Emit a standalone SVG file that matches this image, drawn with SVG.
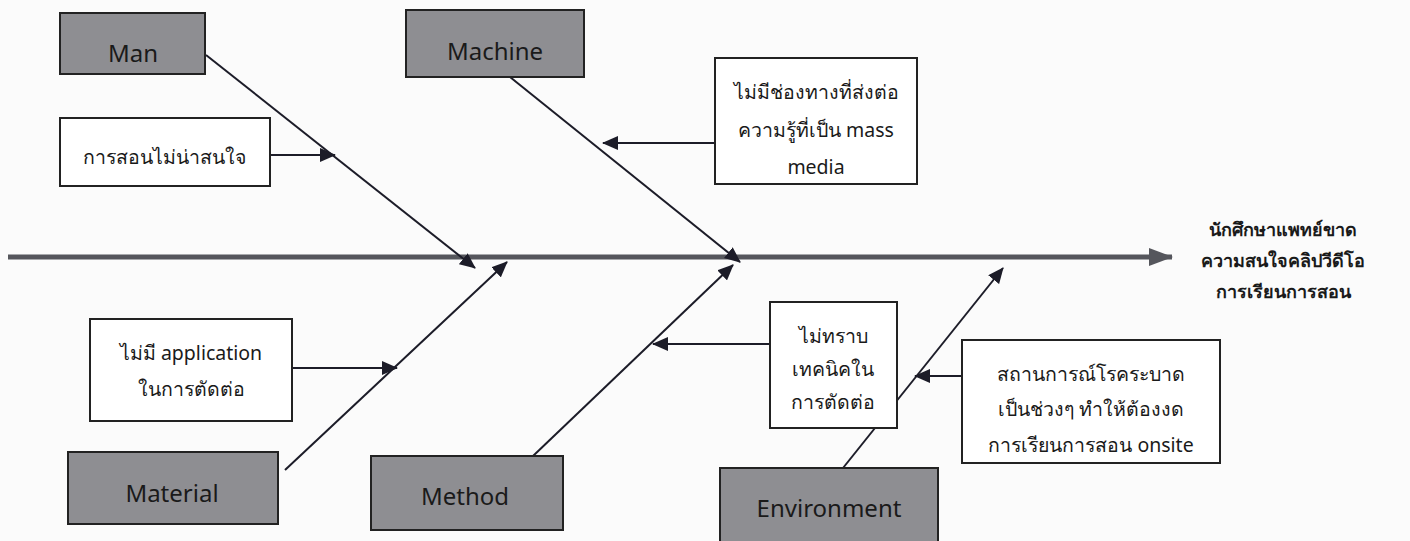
<svg xmlns="http://www.w3.org/2000/svg" width="1410" height="541" viewBox="0 0 1410 541">
<defs>
<marker id="ah" markerUnits="userSpaceOnUse" markerWidth="16" markerHeight="14" refX="15" refY="7" orient="auto"><path d="M0,0 L16,7 L0,14 Z" fill="#1c1c28"/></marker>
<marker id="big" markerUnits="userSpaceOnUse" markerWidth="24" markerHeight="18" refX="23" refY="9" orient="auto"><path d="M0,0 L24,9 L0,18 Z" fill="#55565c"/></marker>
</defs>
<style>
.cat rect{fill:#8e8e92;stroke:#222;stroke-width:2}
.cause rect{fill:#fff;stroke:#222;stroke-width:2}
text{font-family:"Noto Sans","Open Sans",sans-serif;fill:#1a1a1a;text-anchor:middle;dominant-baseline:central}
.cat text{font-size:24px}
.cause text{font-size:19.5px}
.effect text{font-size:18px;font-weight:bold}
.bone{stroke:#1c1c28;stroke-width:2;fill:none;marker-end:url(#ah)}
.spine{stroke:#55565c;stroke-width:5;fill:none;marker-end:url(#big)}
</style>
<rect width="1410" height="541" fill="#fbfbfb"/>
<g id="connectors">
<path class="spine" d="M8,257 L1172,257"/>
<path class="bone" d="M206,55 L475,268"/>
<path class="bone" d="M510,77 L740,262"/>
<path class="bone" d="M285,470 L507,262"/>
<path class="bone" d="M533,456 L733,265"/>
<path class="bone" d="M843,468 L1003,268"/>
<path class="bone" d="M270,155 L335,155"/>
<path class="bone" d="M715,143 L603,143"/>
<path class="bone" d="M292,368 L397,368"/>
<path class="bone" d="M770,344 L653,344"/>
<path class="bone" d="M962,376 L915,376"/>
</g>
<g id="man" class="cat"><rect x="60" y="13" width="145" height="61"/><text x="133" y="52">Man</text></g>
<g id="machine" class="cat"><rect x="406" y="10" width="178" height="67"/><text x="495" y="50">Machine</text></g>
<g id="material" class="cat"><rect x="68" y="452" width="210" height="72"/><text x="172" y="492">Material</text></g>
<g id="method" class="cat"><rect x="371" y="456" width="192" height="74"/><text x="465" y="495">Method</text></g>
<g id="environment" class="cat"><rect x="720" y="468" width="218" height="80"/><text x="829" y="507">Environment</text></g>
<g id="cause-man" class="cause"><rect x="60" y="118" width="210" height="68"/><text x="164" y="156">การสอนไม่น่าสนใจ</text></g>
<g id="cause-machine" class="cause"><rect x="715" y="58" width="202" height="126"/><text x="816" y="91">ไม่มีช่องทางที่ส่งต่อ</text><text x="816" y="129">ความรู้ที่เป็น mass</text><text x="816" y="166">media</text></g>
<g id="cause-material" class="cause"><rect x="90" y="319" width="202" height="102"/><text x="191" y="352">ไม่มี application</text><text x="191" y="388">ในการตัดต่อ</text></g>
<g id="cause-method" class="cause"><rect x="770" y="302" width="127" height="126"/><text x="833" y="335">ไม่ทราบ</text><text x="833" y="368">เทคนิคใน</text><text x="833" y="401">การตัดต่อ</text></g>
<g id="cause-environment" class="cause"><rect x="962" y="340" width="258" height="123"/><text x="1091" y="373">สถานการณ์โรคระบาด</text><text x="1091" y="408">เป็นช่วงๆ ทำให้ต้องงด</text><text x="1091" y="444">การเรียนการสอน onsite</text></g>
<g id="effect" class="effect"><text x="1283" y="229">นักศึกษาแพทย์ขาด</text><text x="1283" y="260">ความสนใจคลิปวีดีโอ</text><text x="1283" y="291">การเรียนการสอน</text></g>
</svg>
